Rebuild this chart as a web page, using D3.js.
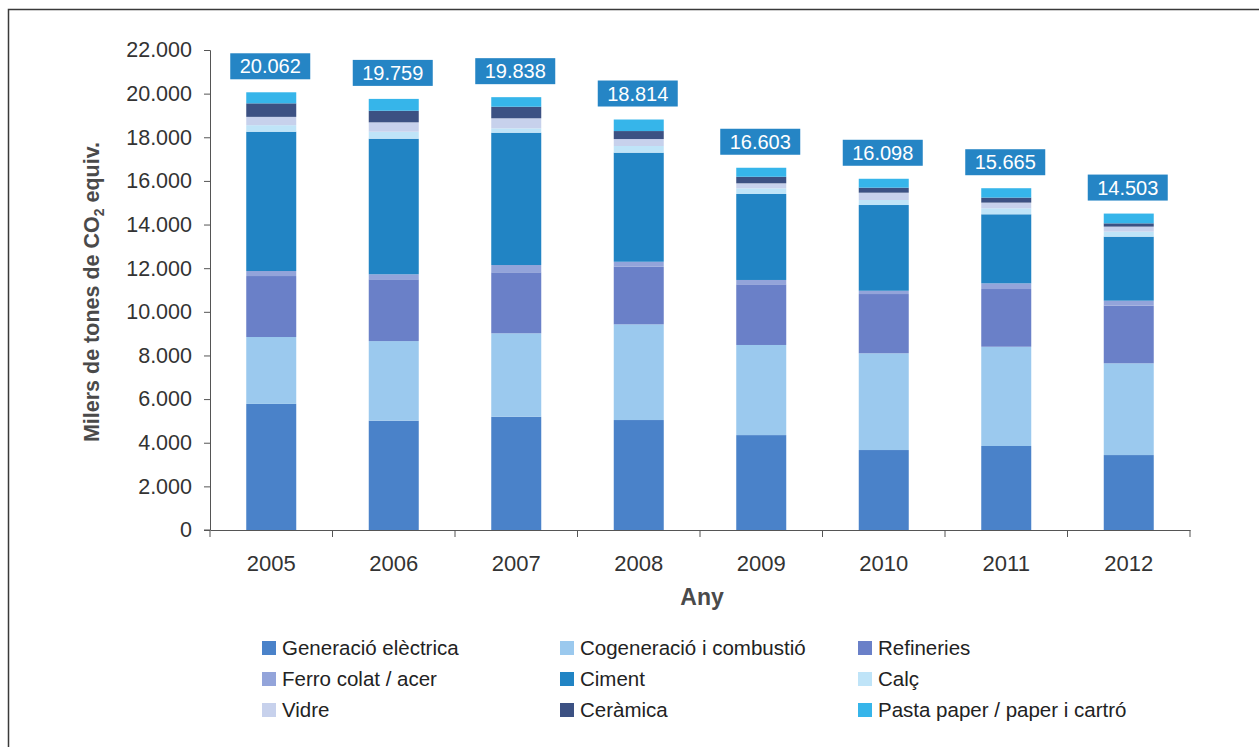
<!DOCTYPE html>
<html>
<head>
<meta charset="utf-8">
<script src="https://cdn.jsdelivr.net/npm/d3@7"></script>
<style>
  body { margin: 0; background: #fff; }
  svg { display: block; font-family: "Liberation Sans", Arial, sans-serif; }
</style>
</head>
<body>
<div id="chart"></div>
<script>
// dades (milers de tones de CO2 equiv.)
var years = ["2005", "2006", "2007", "2008", "2009", "2010", "2011", "2012"];
var sectors = ["Generació elèctrica", "Cogeneració i combustió", "Refineries", "Ferro colat / acer",
               "Ciment", "Calç", "Vidre", "Ceràmica", "Pasta paper / paper i cartró"];
var generacio  = [5780, 5010, 5190, 5040, 4350, 3665, 3850, 3435];
var cogeneracio = [3065, 3650, 3825, 4385, 4130, 4435, 4550, 4205];
var refineries = [2795, 2830, 2795, 2640, 2780, 2715, 2645, 2640];
var ferro      = [230, 230, 335, 230, 200, 150, 260, 230];
var ciment     = [6385, 6215, 6065, 5000, 3940, 3930, 3165, 2935];
var calc       = [300, 320, 200, 305, 260, 230, 275, 230];
var vidre      = [380, 430, 460, 320, 230, 335, 260, 230];
var ceramica   = [620, 530, 530, 365, 300, 230, 230, 150];
var pasta      = [507, 544, 438, 529, 413, 408, 430, 448];
var totals     = [20062, 19759, 19838, 18814, 16603, 16098, 15665, 14503];
var yTicks = [0, 2000, 4000, 6000, 8000, 10000, 12000, 14000, 16000, 18000, 20000, 22000];

var colors = ["#4a82c9", "#9bc9ee", "#6a80c8", "#93a4da", "#2184c4", "#bfe4f8", "#c7d1ec", "#3c5183", "#36b5ea"];

var series = [generacio, cogeneracio, refineries, ferro, ciment, calc, vidre, ceramica, pasta];
var rows = years.map(function(yr, i) {
    var r = {year: yr, total: totals[i]};
    sectors.forEach(function(s, k) { r[s] = series[k][i]; });
    return r;
});

var W = 1259, H = 747;
var margin = {top: 50, left: 210, right: 69, bottom: 217};
var width = W - margin.left - margin.right,
    height = H - margin.top - margin.bottom;

var svg = d3.select("#chart").append("svg")
    .attr("width", W)
    .attr("height", H);

// marc
svg.append("path")
    .attr("d", "M8.5," + H + "V9.5H" + W)
    .attr("fill", "none")
    .attr("stroke", "#3a3a3a")
    .attr("stroke-width", 1.5);

var g = svg.append("g")
    .attr("transform", "translate(" + margin.left + "," + margin.top + ")");

var x = d3.scaleBand().domain(years).range([0, width]).padding(0);
var y = d3.scaleLinear().domain([0, 22000]).range([height, 0]);
var color = d3.scaleOrdinal().domain(sectors).range(colors);

var fmt = function(v) { return d3.format(",")(v).replace(/,/g, "."); };

var stacked = d3.stack().keys(sectors)(rows);
var barW = 50;

g.selectAll(".layer")
    .data(stacked)
    .enter().append("g")
    .attr("class", "layer")
    .attr("fill", d => color(d.key))
    .selectAll("rect")
    .data(d => d)
    .enter().append("rect")
    .attr("x", d => x(d.data.year) + x.bandwidth() / 2 - barW / 2)
    .attr("y", d => y(d[1]))
    .attr("width", barW)
    .attr("height", d => y(d[0]) - y(d[1]));

// eix Y
var yAxis = g.append("g")
    .call(d3.axisLeft(y).tickValues(yTicks).tickSize(6).tickPadding(12).tickFormat(fmt));
yAxis.select(".domain").attr("stroke", "#555").attr("d", "M-6,0.5H0.5V" + height + "H-6");
yAxis.selectAll("line").attr("stroke", "#555");
yAxis.selectAll("text").attr("font-size", 21.5).attr("fill", "#333")
    .attr("font-family", "Liberation Sans, Arial, sans-serif");

// eix X
var xAxis = g.append("g")
    .attr("transform", "translate(0," + height + ")")
    .call(d3.axisBottom(x).tickSize(0).tickPadding(25));
xAxis.select(".domain").attr("stroke", "#555");
xAxis.selectAll("text").attr("font-size", 22).attr("fill", "#333")
    .attr("font-family", "Liberation Sans, Arial, sans-serif");
g.append("g").selectAll("line")
    .data(d3.range(years.length + 1))
    .enter().append("line")
    .attr("x1", i => i * x.step()).attr("x2", i => i * x.step())
    .attr("y1", height).attr("y2", height + 7)
    .attr("stroke", "#555");

// etiquetes de total
var lab = g.selectAll(".total")
    .data(rows)
    .enter().append("g")
    .attr("class", "total")
    .attr("transform", d => "translate(" + (x(d.year) + x.bandwidth() / 2 - 1) + "," + (y(d.total) - 13) + ")");
lab.append("rect")
    .attr("x", -40).attr("y", -26)
    .attr("width", 80).attr("height", 26)
    .attr("fill", "#2585c5");
lab.append("text")
    .attr("y", -6)
    .attr("text-anchor", "middle")
    .attr("font-size", 20)
    .attr("fill", "#fff")
    .text(d => fmt(d.total));

// títols d'eixos
var yt = svg.append("text")
    .attr("transform", "translate(99,292) rotate(-90)")
    .attr("text-anchor", "middle")
    .attr("font-size", 21.5)
    .attr("font-weight", "bold")
    .attr("fill", "#4a4a4a");
yt.append("tspan").text("Milers de tones de CO");
yt.append("tspan").attr("font-size", 14).attr("dy", 5).text("2");
yt.append("tspan").attr("dy", -5).text(" equiv.");

svg.append("text")
    .attr("x", 702).attr("y", 605)
    .attr("text-anchor", "middle")
    .attr("font-size", 23)
    .attr("font-weight", "bold")
    .attr("fill", "#4a4a4a")
    .text("Any");

// llegenda
var legX = [262, 560, 858], legY = [648, 679, 710];
var leg = svg.selectAll(".leg")
    .data(sectors)
    .enter().append("g")
    .attr("class", "leg")
    .attr("transform", (d, i) => "translate(" + legX[i % 3] + "," + legY[Math.floor(i / 3)] + ")");
leg.append("rect")
    .attr("x", 0).attr("y", -7)
    .attr("width", 14).attr("height", 14)
    .attr("fill", d => color(d));
leg.append("text")
    .attr("x", 20).attr("y", 7)
    .attr("font-size", 20.5)
    .attr("fill", "#222")
    .text(d => d);
</script>
</body>
</html>
